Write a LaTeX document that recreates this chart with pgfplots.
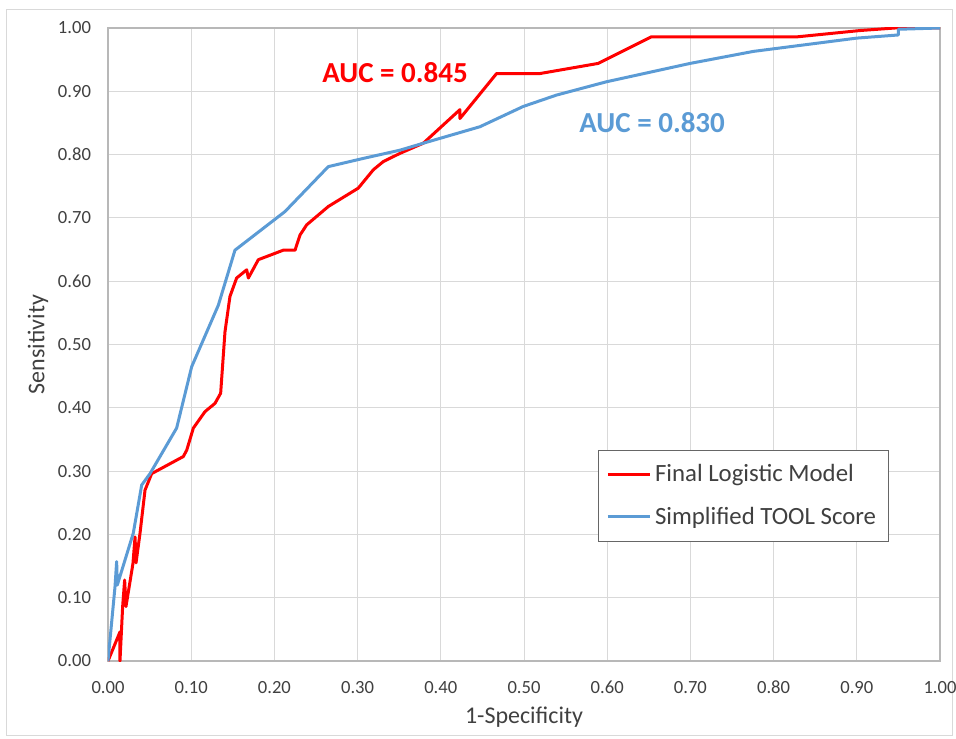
\documentclass[border=0pt]{standalone}
\usepackage{pgfplots}
\pgfplotsset{compat=1.18}
\usepackage{fontspec}
\setmainfont{Carlito}
\definecolor{redl}{RGB}{255,0,0}
\definecolor{bluel}{RGB}{91,155,213}
\definecolor{txt}{RGB}{64,64,64}
\definecolor{gridc}{RGB}{217,217,217}
\begin{document}
\begin{tikzpicture}
\useasboundingbox (-54pt,-38.5pt) rectangle (424pt,330.5pt);
\draw[gridc, line width=0.5pt] (-50.5pt,-37pt) rectangle (422pt,325.5pt);
\begin{axis}[
 at={(0,0)}, anchor=south west,
 scale only axis, width=416pt, height=316.5pt,
 xmin=0, xmax=1, ymin=0, ymax=1,
 xtick={0,0.1,0.2,0.3,0.4,0.5,0.6,0.7,0.8,0.9,1},
 ytick={0,0.1,0.2,0.3,0.4,0.5,0.6,0.7,0.8,0.9,1},
 xticklabels={0.00,0.10,0.20,0.30,0.40,0.50,0.60,0.70,0.80,0.90,1.00},
 yticklabels={0.00,0.10,0.20,0.30,0.40,0.50,0.60,0.70,0.80,0.90,1.00},
 grid=major, major grid style={gridc, line width=0.5pt},
 axis line style={gridc!85!black, line width=0.6pt},
 major tick length=0pt,
 tick label style={font=\fontsize{9.3}{10}\selectfont, text=txt},
 xticklabel style={yshift=-6.5pt},
 yticklabel style={xshift=-5pt},
 xlabel={1-Specificity}, ylabel={Sensitivity},
 label style={font=\fontsize{12}{14}\selectfont, text=txt},
 xlabel style={at={(axis description cs:0.5,-0.088)}, anchor=center},
 ylabel style={at={(axis description cs:-0.0841,0.5)}, anchor=center},
 legend style={at={(axis cs:0.589,0.333)}, anchor=north west, draw=black!60, fill=white,
   font=\fontsize{12.4}{14}\selectfont, text=txt, row sep=7pt, inner xsep=4pt, inner ysep=5pt},
 legend cell align=left,
 legend image code/.code={\draw[#1] (0pt,0pt) -- (20.8pt,0pt);},
]
\addplot[redl, line width=1.5pt, line join=round] coordinates {
(0,0) (0.0144,0.046) (0.0144,0.0) (0.0176,0.086) (0.020,0.128) (0.0216,0.086)
(0.030,0.154) (0.0325,0.196) (0.0337,0.155) (0.0385,0.202) (0.0445,0.27)
(0.0525,0.296) (0.0905,0.323) (0.0946,0.333) (0.1026,0.368) (0.1166,0.394)
(0.1286,0.407) (0.1354,0.423) (0.1406,0.520) (0.1466,0.576) (0.1546,0.605)
(0.1667,0.618) (0.1687,0.605) (0.1807,0.634) (0.2107,0.649) (0.2248,0.649)
(0.2308,0.673) (0.2388,0.689) (0.2648,0.718) (0.3008,0.747) (0.3189,0.776)
(0.3309,0.789) (0.351,0.802) (0.379,0.818) (0.423,0.871) (0.423,0.857)
(0.467,0.928) (0.519,0.928) (0.589,0.944) (0.653,0.986) (0.828,0.986)
(0.904,0.996) (0.946,1.0) (1,1)
};
\addlegendentry{Final Logistic Model}
\addplot[bluel, line width=1.5pt, line join=round] coordinates {
(0,0) (0.0084,0.117) (0.0104,0.157) (0.0112,0.12) (0.0304,0.202) (0.0405,0.278)
(0.0505,0.296) (0.0825,0.368) (0.1006,0.465) (0.1326,0.562) (0.1526,0.649)
(0.2127,0.710) (0.2648,0.781) (0.3069,0.794) (0.351,0.807) (0.379,0.818)
(0.447,0.844) (0.499,0.876) (0.539,0.894) (0.599,0.915) (0.6995,0.944)
(0.7756,0.963) (0.8998,0.984) (0.95,0.989) (0.95,0.998) (1.0,1.0)
};
\addlegendentry{Simplified TOOL Score}
\node[font=\bfseries\fontsize{14.5}{16}\selectfont, text=redl] at (axis cs:0.345,0.929) {AUC = 0.845};
\node[font=\bfseries\fontsize{14.5}{16}\selectfont, text=bluel] at (axis cs:0.654,0.850) {AUC = 0.830};
\end{axis}
\end{tikzpicture}
\end{document}
